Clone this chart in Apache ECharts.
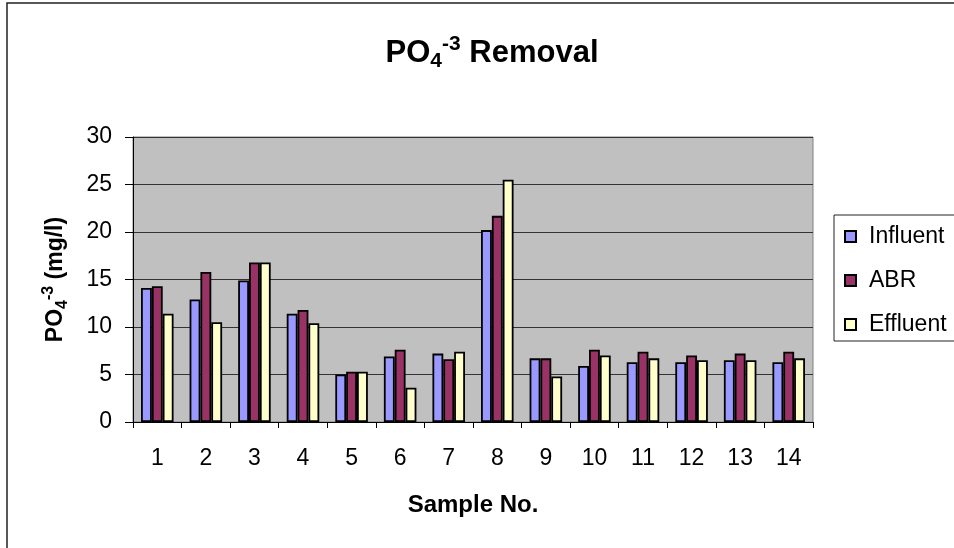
<!DOCTYPE html>
<html>
<head>
<meta charset="utf-8">
<script src="https://cdn.jsdelivr.net/npm/echarts@6/dist/echarts.min.js"></script>
<style>
html,body{margin:0;padding:0;background:#fff;}
#chart{width:954px;height:548px;}
</style>
</head>
<body>
<div id="chart"></div>
<script>
const samples = ['1','2','3','4','5','6','7','8','9','10','11','12','13','14'];
const influent = [14.1, 12.9, 14.9, 11.4, 5.0, 6.9, 7.2, 20.2, 6.7, 5.9, 6.3, 6.3, 6.5, 6.3];
const abr      = [14.3, 15.8, 16.8, 11.8, 5.3, 7.6, 6.6, 21.7, 6.7, 7.6, 7.4, 7.0, 7.2, 7.4];
const effluent = [11.4, 10.5, 16.8, 10.4, 5.3, 3.6, 7.4, 25.5, 4.8, 7.0, 6.7, 6.5, 6.5, 6.7];
const yTicks = [0, 5, 10, 15, 20, 25, 30];

const FONT = '"Liberation Sans", Arial, sans-serif';
const chart = echarts.init(document.getElementById('chart'));

function barSeries(name, data, color) {
  return {
    name: name,
    type: 'bar',
    data: data,
    barGap: '0%',
    barCategoryGap: '33%',
    itemStyle: { color: color, borderColor: '#000', borderWidth: 1.8 },
    emphasis: { disabled: true },
    animation: false
  };
}

chart.setOption({
  animation: false,
  backgroundColor: '#ffffff',
  textStyle: { fontFamily: FONT },
  title: {
    text: '{a|PO}{b|4}{c|-3}{a| Removal}',
    left: 487,
    top: 29,
    textAlign: 'center',
    textStyle: {
      rich: {
        a: { fontFamily: FONT, fontSize: 31, fontWeight: 'bold', color: '#000', lineHeight: 38 },
        b: { fontFamily: FONT, fontSize: 21, fontWeight: 'bold', color: '#000', verticalAlign: 'bottom', lineHeight: 20 },
        c: { fontFamily: FONT, fontSize: 21, fontWeight: 'bold', color: '#000', verticalAlign: 'top', lineHeight: 20 }
      }
    }
  },
  graphic: [
    { type: 'rect', shape: { x: 7, y: 3, width: 2000, height: 2000 }, style: { fill: 'none', stroke: '#222', lineWidth: 1.5 }, silent: true, z: -1 }
  ],
  legend: {
    orient: 'vertical',
    left: 834,
    top: 215,
    backgroundColor: '#fff',
    borderColor: '#222',
    borderWidth: 1,
    padding: [10, 40, 5, 10],
    itemGap: 21,
    itemWidth: 11,
    itemHeight: 11,
    icon: 'rect',
    selectedMode: false,
    textStyle: { fontFamily: FONT, fontSize: 23, color: '#000', padding: [0, 0, 0, 8] },
    data: ['Influent', 'ABR', 'Effluent']
  },
  grid: {
    left: 133, right: 141, top: 137, bottom: 126,
    show: true,
    backgroundColor: '#C0C0C0',
    borderColor: '#808080',
    borderWidth: 1
  },
  xAxis: {
    type: 'category',
    data: samples,
    name: 'Sample No.',
    nameLocation: 'middle',
    nameGap: 71,
    nameTextStyle: { fontFamily: FONT, fontSize: 24, fontWeight: 'bold', color: '#000' },
    axisLine: { show: true, lineStyle: { color: '#000', width: 1 } },
    axisTick: { show: true, length: 6, lineStyle: { color: '#000' } },
    axisLabel: { fontFamily: FONT, fontSize: 23, color: '#000', margin: 25 },
    splitLine: { show: false }
  },
  yAxis: {
    type: 'value',
    min: 0, max: 30, interval: 5,
    name: '{a|PO}{b|4}{c|-3}{a| (mg/l)}',
    nameLocation: 'middle',
    nameRotate: 90,
    nameGap: 62,
    nameTextStyle: {
      rich: {
        a: { fontFamily: FONT, fontSize: 23, fontWeight: 'bold', color: '#000', lineHeight: 30 },
        b: { fontFamily: FONT, fontSize: 16, fontWeight: 'bold', color: '#000', verticalAlign: 'bottom', lineHeight: 16 },
        c: { fontFamily: FONT, fontSize: 16, fontWeight: 'bold', color: '#000', verticalAlign: 'top', lineHeight: 16 }
      }
    },
    axisLine: { show: true, lineStyle: { color: '#000', width: 1 } },
    axisTick: { show: true, length: 8, inside: false, lineStyle: { color: '#000' } },
    axisLabel: {
      fontFamily: FONT, fontSize: 23, color: '#000', margin: 21,
      formatter: function (v) { return yTicks.indexOf(v) >= 0 ? String(v) : ''; }
    },
    splitLine: { show: true, lineStyle: { color: '#333', width: 1 } }
  },
  series: [
    barSeries('Influent', influent, '#9999FF'),
    barSeries('ABR', abr, '#993366'),
    barSeries('Effluent', effluent, '#FFFFCC')
  ]
});
</script>
</body>
</html>
